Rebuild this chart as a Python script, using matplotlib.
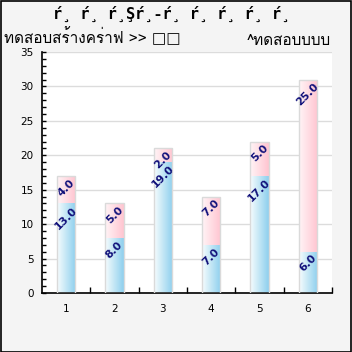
import numpy as np
import matplotlib
matplotlib.use("Agg")
import matplotlib.pyplot as plt
from matplotlib import font_manager
from matplotlib.ft2font import FT2Font
from matplotlib.patches import Rectangle
from matplotlib.colors import LinearSegmentedColormap

# ---- data ----
categories = ["1", "2", "3", "4", "5", "6"]
series_blue = [13, 8, 19, 7, 17, 6]
series_pink = [4, 5, 2, 7, 5, 25]
title_text = "ŕ¸ ŕ¸ ŕ¸Şŕ¸-ŕ¸ ŕ¸ ŕ¸ ŕ¸ ŕ¸"
subtitle_text = "ทดสอบสร้างคร่าฟ >> □□"
legend_text = "^ทดสอบบบบ"
y_ticks = [0, 5, 10, 15, 20, 25, 30, 35]

# find a font with Thai glyphs
thai_font = None
for fe in font_manager.fontManager.ttflist:
    try:
        cm = FT2Font(fe.fname).get_charmap()
        if 0x0E17 in cm and 0x0E2A in cm:
            thai_font = fe.name
            break
    except Exception:
        pass
fam = ([thai_font] if thai_font else []) + ["DejaVu Sans"]

W = H = 352
fig = plt.figure(figsize=(3.52, 3.52), dpi=100, facecolor="#f4f4f4")
fig.patches.append(Rectangle((0.5 / W, 0.5 / H), 1 - 1.5 / W, 1 - 1.5 / H,
                             transform=fig.transFigure, fill=False,
                             edgecolor="black", linewidth=1.2))

left, right, top, bottom = 42, 332, 52, 293
ax = fig.add_axes([left / W, 1 - bottom / H, (right - left) / W, (bottom - top) / H])
ax.set_facecolor("white")

x = np.arange(1, len(categories) + 1)
width = 0.38
bars_b = ax.bar(x, series_blue, width, color="none", edgecolor="none", zorder=3)
bars_p = ax.bar(x, series_pink, width, bottom=series_blue, color="none",
                edgecolor="none", zorder=3)

grad = np.linspace(0, 1, 64).reshape(1, -1)
cmap_b = LinearSegmentedColormap.from_list("b", ["#f6fcfe", "#c2e6f5", "#8ecfee"])
cmap_p = LinearSegmentedColormap.from_list("p", ["#fff4f6", "#ffdde4", "#ffc4d0"])
for bars, cmap in ((bars_b, cmap_b), (bars_p, cmap_p)):
    for p in bars:
        x0, y0 = p.get_x(), p.get_y()
        im = ax.imshow(grad, cmap=cmap, aspect="auto", interpolation="bilinear",
                       extent=(x0, x0 + p.get_width(), y0, y0 + p.get_height()),
                       zorder=2.5)
        im.set_clip_path(p)

# outline of whole stack
totals = [b + p for b, p in zip(series_blue, series_pink)]
ax.bar(x, totals, width, color="none", edgecolor="#dadada", linewidth=1.0, zorder=4)

# value labels
for xi, b, p in zip(x, series_blue, series_pink):
    for top_v, v in ((b, b), (b + p, p)):
        ax.annotate(f"{v:.1f}", xy=(xi, top_v), xytext=(0, -1.0),
                    textcoords="offset points", ha="center", va="top",
                    rotation=45, color="#10107a", fontsize=7.8,
                    fontweight="bold", zorder=5)

ax.set_xlim(0.5, 6.5)
ax.set_ylim(0, 35)
ax.set_yticks(y_ticks)
ax.set_yticks(np.arange(0, 36, 1), minor=True)
ax.set_xticks(x)
ax.set_xticklabels(categories)
ax.set_xticks(np.arange(1.5, 7.0, 1.0), minor=True)
ax.tick_params(axis="y", which="both", direction="in", length=3, width=1,
               labelsize=7.5, pad=6)
ax.tick_params(axis="x", which="major", length=0, labelsize=7.5, pad=8)
ax.tick_params(axis="x", which="minor", direction="in", length=4, width=1)
ax.grid(axis="y", which="major", color="#dcdcdc", linewidth=1, zorder=0)
ax.set_axisbelow(True)
for s in ("top", "right"):
    ax.spines[s].set_visible(False)
for s in ("left", "bottom"):
    ax.spines[s].set_linewidth(1.2)
    ax.spines[s].set_color("black")

fig.text(172 / W, 1 - 14 / H, title_text, ha="center", va="center",
         fontsize=11, family="DejaVu Sans Mono", fontweight="bold")
fig.text(4 / W, 1 - 37 / H, subtitle_text, ha="left", va="center",
         fontsize=11, family=fam)
fig.text(331 / W, 1 - 41 / H, legend_text, ha="right", va="center",
         fontsize=11, family=fam)

fig.savefig("out.png", dpi=100, facecolor=fig.get_facecolor())
